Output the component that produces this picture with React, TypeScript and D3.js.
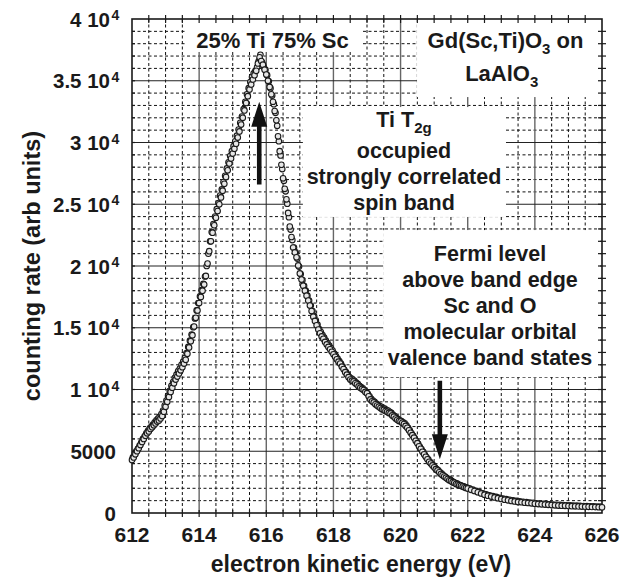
import React from "react";
import * as d3 from "d3";

// counting rate vs electron kinetic energy (two overlapping scans)
const scanA: [number, number][] = [
  [612.0, 4300], [612.05, 4500], [612.1, 4750], [612.15, 5000], [612.2, 5250],
  [612.25, 5500], [612.3, 5750], [612.35, 6000], [612.4, 6250], [612.45, 6450],
  [612.5, 6600], [612.55, 6800], [612.6, 6950], [612.65, 7100], [612.7, 7250],
  [612.75, 7400], [612.8, 7500], [612.85, 7650], [612.9, 7850], [612.95, 8200],
  [613.0, 8600], [613.05, 9000], [613.1, 9400], [613.15, 9800], [613.2, 10150],
  [613.25, 10500], [613.3, 10800], [613.35, 11050], [613.4, 11300], [613.45, 11550],
  [613.5, 11800], [613.55, 12100], [613.6, 12400], [613.65, 12900], [613.7, 13400],
  [613.75, 13900], [613.8, 14400], [613.85, 15100], [613.9, 15800], [613.95, 16400],
  [614.0, 17000], [614.05, 17500], [614.1, 18000], [614.15, 18500], [614.2, 19200],
  [614.25, 20200], [614.3, 21200], [614.35, 22000], [614.4, 22700], [614.45, 23300],
  [614.5, 23900], [614.55, 24450], [614.6, 25000], [614.65, 25550], [614.7, 26100],
  [614.75, 26650], [614.8, 27200], [614.85, 27750], [614.9, 28300], [614.95, 28700],
  [615.0, 29100], [615.05, 29500], [615.1, 29900], [615.15, 30400], [615.2, 30900],
  [615.25, 31450], [615.3, 32000], [615.35, 32600], [615.4, 33200], [615.45, 33750],
  [615.5, 34300], [615.55, 34700], [615.6, 35100], [615.65, 35450], [615.7, 35800],
  [615.75, 36400], [615.8, 36900], [615.85, 36600], [615.9, 36300], [615.95, 35900],
  [616.0, 35500], [616.05, 35000], [616.1, 34500], [616.15, 33900], [616.2, 33300],
  [616.25, 32550], [616.3, 31800], [616.35, 30500], [616.4, 29300], [616.45, 28200],
  [616.5, 27100], [616.55, 26250], [616.6, 25400], [616.65, 24300], [616.7, 23200],
  [616.75, 22350], [616.8, 21500], [616.85, 21100], [616.9, 20700], [616.95, 20050],
  [617.0, 19400], [617.05, 18900], [617.1, 18400], [617.15, 18000], [617.2, 17600],
  [617.25, 17200], [617.3, 16800], [617.35, 16350], [617.4, 15900], [617.45, 15550],
  [617.5, 15200], [617.55, 14850], [617.6, 14550], [617.65, 14300], [617.7, 14100],
  [617.75, 13850], [617.8, 13650], [617.85, 13450], [617.9, 13250], [617.95, 13050],
  [618.0, 12850], [618.05, 12650], [618.1, 12450], [618.15, 12250], [618.2, 12100],
  [618.25, 11850], [618.3, 11650], [618.35, 11400], [618.4, 11200], [618.45, 11000],
  [618.5, 10800], [618.55, 10700], [618.6, 10650], [618.65, 10500], [618.7, 10400],
  [618.75, 10250], [618.8, 10150], [618.85, 10050], [618.9, 9950], [618.95, 9800],
  [619.0, 9700], [619.05, 9450], [619.1, 9200], [619.15, 9050], [619.2, 8950],
  [619.25, 8800], [619.3, 8700], [619.35, 8600], [619.4, 8500], [619.45, 8400],
  [619.5, 8350], [619.55, 8250], [619.6, 8200], [619.65, 8100], [619.7, 8050],
  [619.75, 7900], [619.8, 7800], [619.85, 7650], [619.9, 7550], [619.95, 7450],
  [620.0, 7400], [620.05, 7300], [620.1, 7200], [620.15, 7050], [620.2, 6900],
  [620.25, 6700], [620.3, 6500], [620.35, 6300], [620.4, 6100], [620.45, 5850],
  [620.5, 5650], [620.55, 5400], [620.6, 5200], [620.65, 4950], [620.7, 4750],
  [620.75, 4550], [620.8, 4350], [620.85, 4150], [620.9, 4000], [620.95, 3850],
  [621.0, 3700], [621.05, 3550], [621.1, 3450], [621.15, 3300], [621.2, 3150],
  [621.25, 3050], [621.3, 2950], [621.35, 2850], [621.4, 2750], [621.45, 2650],
  [621.5, 2600], [621.55, 2500], [621.6, 2450], [621.65, 2350], [621.7, 2300],
  [621.75, 2250], [621.8, 2200], [621.85, 2150], [621.9, 2080], [621.95, 2030],
  [622.0, 1980], [622.1, 1880], [622.2, 1780], [622.3, 1680], [622.4, 1580],
  [622.5, 1480], [622.6, 1400], [622.7, 1330], [622.8, 1260], [622.9, 1200],
  [623.0, 1140], [623.1, 1080], [623.2, 1030], [623.3, 980], [623.4, 940],
  [623.5, 900], [623.6, 870], [623.7, 840], [623.8, 810], [623.9, 780],
  [624.0, 750], [624.1, 720], [624.2, 700], [624.3, 680], [624.4, 660],
  [624.5, 640], [624.6, 620], [624.7, 600], [624.8, 590], [624.9, 580],
  [625.0, 560], [625.1, 550], [625.2, 540], [625.3, 530], [625.4, 520],
  [625.5, 510], [625.6, 500], [625.7, 490], [625.8, 480], [625.9, 470],
  [626.0, 460],
];

const scanB: [number, number][] = [
  [612.025, 4500], [612.075, 4750], [612.125, 5000], [612.175, 5200], [612.225, 5450],
  [612.275, 5700], [612.325, 6000], [612.375, 6200], [612.425, 6450], [612.475, 6650],
  [612.525, 6850], [612.575, 7000], [612.625, 7150], [612.675, 7350], [612.725, 7500],
  [612.775, 7650], [612.825, 7800], [612.875, 8000], [612.925, 8300], [612.975, 8700],
  [613.025, 9100], [613.075, 9500], [613.125, 9900], [613.175, 10300], [613.225, 10600],
  [613.275, 10950], [613.325, 11200], [613.375, 11500], [613.425, 11700], [613.475, 12000],
  [613.525, 12250], [613.575, 12550], [613.625, 12950], [613.675, 13450], [613.725, 13950],
  [613.775, 14450], [613.825, 15050], [613.875, 15750], [613.925, 16400], [613.975, 17000],
  [614.025, 17550], [614.075, 18050], [614.125, 18550], [614.175, 19150], [614.225, 20000],
  [614.275, 21000], [614.325, 22000], [614.375, 22750], [614.425, 23400], [614.475, 24000],
  [614.525, 24600], [614.575, 25100], [614.625, 25700], [614.675, 26200], [614.725, 26800],
  [614.775, 27300], [614.825, 27900], [614.875, 28400], [614.925, 28900], [614.975, 29300],
  [615.025, 29700], [615.075, 30100], [615.125, 30550], [615.175, 31050], [615.225, 31600],
  [615.275, 32100], [615.325, 32700], [615.375, 33300], [615.425, 33900], [615.475, 34400],
  [615.525, 34900], [615.575, 35300], [615.625, 35600], [615.675, 35800], [615.725, 36100],
  [615.775, 36600], [615.825, 37100], [615.875, 36500], [615.925, 36100], [615.975, 35900],
  [616.025, 35450], [616.075, 34950], [616.125, 34400], [616.175, 33800], [616.225, 33100],
  [616.275, 32400], [616.325, 31350], [616.375, 30100], [616.425, 28950], [616.475, 27850],
  [616.525, 26900], [616.575, 26050], [616.625, 25050], [616.675, 23950], [616.725, 22950],
  [616.775, 22100], [616.825, 21500], [616.875, 21100], [616.925, 20600], [616.975, 19950],
  [617.025, 19350], [617.075, 18850], [617.125, 18400], [617.175, 18000], [617.225, 17600],
  [617.275, 17200], [617.325, 16800], [617.375, 16350], [617.425, 15950], [617.475, 15600],
  [617.525, 15250], [617.575, 14900], [617.625, 14650], [617.675, 14400], [617.725, 14200],
  [617.775, 13950], [617.825, 13750], [617.875, 13550], [617.925, 13350], [617.975, 13150],
  [618.025, 12900], [618.075, 12700], [618.125, 12500], [618.175, 12300], [618.225, 12100],
  [618.275, 11850], [618.325, 11600], [618.375, 11400], [618.425, 11200], [618.475, 11000],
  [618.525, 10900], [618.575, 10800], [618.625, 10700], [618.675, 10550], [618.725, 10450],
  [618.775, 10300], [618.825, 10200], [618.875, 10100], [618.925, 9950], [618.975, 9800],
  [619.025, 9650], [619.075, 9450], [619.125, 9250], [619.175, 9100], [619.225, 9000],
  [619.275, 8850], [619.325, 8750], [619.375, 8650], [619.425, 8600], [619.475, 8500],
  [619.525, 8450], [619.575, 8350], [619.625, 8300], [619.675, 8200], [619.725, 8100],
  [619.775, 7950], [619.825, 7850], [619.875, 7700], [619.925, 7600], [619.975, 7500],
  [620.025, 7450], [620.075, 7350], [620.125, 7250], [620.175, 7100], [620.225, 6900],
  [620.275, 6700], [620.325, 6450], [620.375, 6250], [620.425, 6050], [620.475, 5800],
  [620.525, 5600], [620.575, 5350], [620.625, 5150], [620.675, 4950], [620.725, 4700],
  [620.775, 4500], [620.825, 4350], [620.875, 4150], [620.925, 4000], [620.975, 3850],
  [621.025, 3700], [621.075, 3550], [621.125, 3450], [621.175, 3300], [621.225, 3200],
  [621.275, 3050], [621.325, 2950], [621.375, 2850], [621.425, 2750], [621.475, 2700],
  [621.525, 2600], [621.575, 2500], [621.625, 2450], [621.675, 2400], [621.725, 2300],
  [621.775, 2250], [621.825, 2200], [621.875, 2150], [621.925, 2100], [621.975, 2050],
  [622.05, 1990], [622.15, 1890], [622.25, 1790], [622.35, 1690], [622.45, 1590],
  [622.55, 1510], [622.65, 1430], [622.75, 1360], [622.85, 1300], [622.95, 1230],
  [623.05, 1170], [623.15, 1120], [623.25, 1070], [623.35, 1020], [623.45, 980],
  [623.55, 940], [623.65, 910], [623.75, 880], [623.85, 850], [623.95, 820],
  [624.05, 790], [624.15, 770], [624.25, 750], [624.35, 720], [624.45, 700],
  [624.55, 680], [624.65, 660], [624.75, 650], [624.85, 640], [624.95, 620],
  [625.05, 610], [625.15, 600], [625.25, 590], [625.35, 570], [625.45, 560],
  [625.55, 550], [625.65, 540], [625.75, 530], [625.85, 520], [625.95, 510],
];

const xTickValues = [612, 614, 616, 618, 620, 622, 624, 626];
const yTickValues = [0, 5000, 10000, 15000, 20000, 25000, 30000, 35000, 40000];
const yTickLabels = ["0", "5000", "1 10", "1.5 10", "2 10", "2.5 10", "3 10", "3.5 10", "4 10"];

// annotation arrows: [energy, from count, to count]
const arrows: [number, number, number][] = [
  [615.79, 26600, 33300],
  [621.17, 10700, 4350],
];

const FONT = "'Liberation Sans', Arial, Helvetica, sans-serif";
const INK = "#1a1a1a";

export default function App() {
  const width = 630;
  const height = 579;
  const left = 132, right = 602, top = 19, bottom = 513;

  const x = d3.scaleLinear().domain([612, 626]).range([left, right]);
  const y = d3.scaleLinear().domain([0, 40000]).range([bottom, top]);

  const minorX = d3.range(612.5, 626, 0.5).filter((v) => Math.abs(v % 2) > 0.01);
  const majorX = xTickValues.slice(1, -1);
  const minorY = d3.range(1000, 40000, 1000).filter((v) => v % 5000 !== 0);
  const majorY = yTickValues.slice(1, -1);
  const allX = d3.range(612.5, 626, 0.5);
  const allY = d3.range(1000, 40000, 1000);

  // white label boxes (data units)
  const boxes = [
    { x0: 613.58, x1: 618.88, y0: 40000, y1: 37330 },
    { x0: 620.49, x1: 626, y0: 40000, y1: 33680 },
    { x0: 617.09, x1: 623.14, y0: 32870, y1: 23970 },
    { x0: 619.48, x1: 625.94, y0: 22910, y1: 11010 },
  ];

  const arrowPath = (e: number, from: number, to: number) => {
    const cx = x(e);
    const y0 = y(from);
    const y1 = y(to);
    const dir = y1 < y0 ? -1 : 1;
    const headLen = 25, headW = 8, shaftW = 2.3;
    const hb = y1 - dir * headLen;
    return `M${cx - shaftW},${y0} L${cx - shaftW},${hb} L${cx - headW},${hb} L${cx},${y1} L${cx + headW},${hb} L${cx + shaftW},${hb} L${cx + shaftW},${y0} Z`;
  };

  const textStyle = { fontFamily: FONT, fontWeight: 700, fill: INK } as const;

  return (
    <svg width={width} height={height} style={{ position: "absolute", left: 0, top: 0, background: "#fff" }}>
      <rect x={0} y={0} width={width} height={height} fill="#fff" />

      {/* minor grid */}
      {minorX.map((v) => (
        <line key={"mx" + v} x1={x(v)} x2={x(v)} y1={top} y2={bottom} stroke="#111" strokeWidth={1} strokeDasharray="3,2.5" />
      ))}
      {minorY.map((v) => (
        <line key={"my" + v} x1={left} x2={right} y1={y(v)} y2={y(v)} stroke="#111" strokeWidth={1} strokeDasharray="3,2.5" />
      ))}
      {/* major grid */}
      {majorX.map((v) => (
        <line key={"Mx" + v} x1={x(v)} x2={x(v)} y1={top} y2={bottom} stroke="#666" strokeWidth={1.4} />
      ))}
      {majorY.map((v) => (
        <line key={"My" + v} x1={left} x2={right} y1={y(v)} y2={y(v)} stroke="#222" strokeWidth={1.2} />
      ))}

      {/* label boxes */}
      {boxes.map((b, i) => (
        <rect key={"b" + i} x={x(b.x0)} y={y(b.y0)} width={x(b.x1) - x(b.x0)} height={y(b.y1) - y(b.y0)} fill="#fff" />
      ))}

      {/* frame + ticks */}
      <rect x={left} y={top} width={right - left} height={bottom - top} fill="none" stroke={INK} strokeWidth={1.6} />
      {allX.map((v) => (
        <g key={"tx" + v}>
          <line x1={x(v)} x2={x(v)} y1={top - 4} y2={top + 4} stroke={INK} strokeWidth={1.2} />
          <line x1={x(v)} x2={x(v)} y1={bottom - 3} y2={bottom + 4} stroke={INK} strokeWidth={1.2} />
        </g>
      ))}
      {allY.map((v) => (
        <g key={"ty" + v}>
          <line x1={right - 4} x2={right + 4} y1={y(v)} y2={y(v)} stroke={INK} strokeWidth={1.2} />
          <line x1={left} x2={left + 3} y1={y(v)} y2={y(v)} stroke={INK} strokeWidth={1.2} />
        </g>
      ))}

      {/* data */}
      {[...scanB, ...scanA].map(([e, c], i) => (
        <circle key={"p" + i} cx={x(e)} cy={y(c)} r={2.8} fill="#e6e6e6" stroke="#1a1a1a" strokeWidth={1.1} />
      ))}

      {/* arrows */}
      {arrows.map(([e, f, t], i) => (
        <path key={"a" + i} d={arrowPath(e, f, t)} fill="#111" />
      ))}

      {/* tick labels */}
      {xTickValues.map((v) => (
        <text key={"xl" + v} x={x(v)} y={542} textAnchor="middle" fontSize={21} style={textStyle}>
          {v}
        </text>
      ))}
      {yTickValues.map((v, i) => (
        <text key={"yl" + v} x={v >= 10000 ? 110 : 116} y={y(v) + 7.5} textAnchor="end" fontSize={20.5} style={textStyle}>
          {yTickLabels[i]}
        </text>
      ))}
      {yTickValues.filter((v) => v >= 10000).map((v) => (
        <text key={"ye" + v} x={111.5} y={y(v) + 1} fontSize={14} style={textStyle}>
          4
        </text>
      ))}

      {/* axis titles */}
      <text x={361} y={572} textAnchor="middle" fontSize={23} style={textStyle}>
        electron kinetic energy (eV)
      </text>
      <text transform={`translate(40,266) rotate(-90)`} textAnchor="middle" fontSize={23.5} style={textStyle}>
        counting rate (arb units)
      </text>

      {/* annotations */}
      <text x={272.5} y={48} textAnchor="middle" fontSize={22} style={textStyle}>
        25% Ti 75% Sc
      </text>
      <text x={505.5} y={48} textAnchor="middle" fontSize={22} style={textStyle}>
        Gd(Sc,Ti)O<tspan dy={6} fontSize={15}>3</tspan><tspan dy={-6}> on</tspan>
      </text>
      <text x={501.7} y={81} textAnchor="middle" fontSize={22} style={textStyle}>
        LaAlO<tspan dy={6} fontSize={15}>3</tspan>
      </text>

      <text x={404} y={127} textAnchor="middle" fontSize={21.5} style={textStyle}>
        Ti T<tspan dy={6} fontSize={15}>2g</tspan>
      </text>
      {["occupied", "strongly correlated", "spin band"].map((s, i) => (
        <text key={"ti" + i} x={404} y={158 + i * 26} textAnchor="middle" fontSize={21.5} style={textStyle}>
          {s}
        </text>
      ))}
      {["Fermi level", "above band edge", "Sc and O", "molecular orbital", "valence band states"].map((s, i) => (
        <text key={"fe" + i} x={490} y={260.7 + i * 26.1} textAnchor="middle" fontSize={21.5} style={textStyle}>
          {s}
        </text>
      ))}
    </svg>
  );
}
